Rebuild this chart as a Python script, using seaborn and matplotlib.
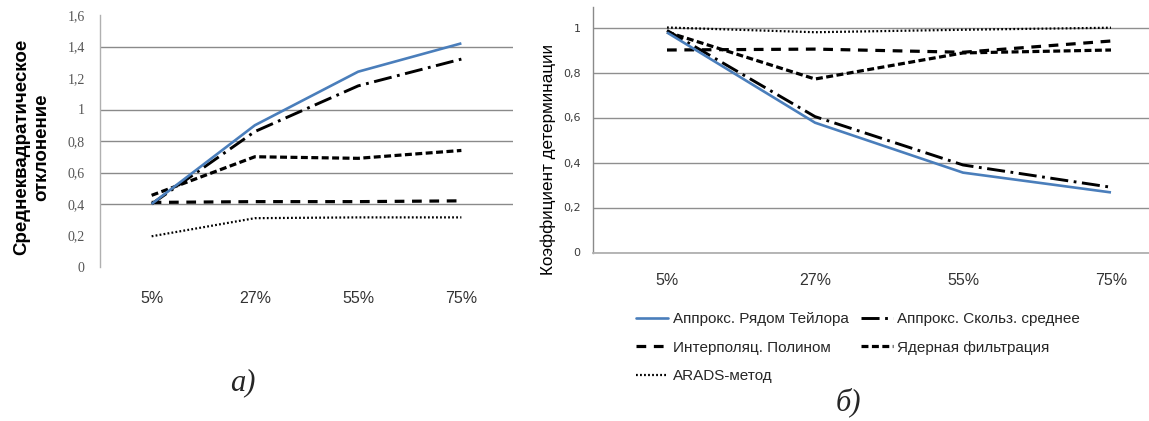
import matplotlib
matplotlib.use("Agg")
import matplotlib.pyplot as plt
from matplotlib.lines import Line2D
import seaborn as sns
import pandas as pd

# Noise levels (categories on the x axis)
levels = ["5%", "27%", "55%", "75%"]

series_names = [
    "Аппрокс. Рядом Тейлора",
    "Аппрокс. Скольз. среднее",
    "Интерполяц. Полином",
    "Ядерная фильтрация",
    "ARADS-метод",
]

# (a) root-mean-square deviation
rmse_taylor = [0.40, 0.90, 1.24, 1.42]
rmse_moving = [0.40, 0.86, 1.15, 1.32]
rmse_poly = [0.41, 0.415, 0.415, 0.42]
rmse_kernel = [0.455, 0.70, 0.69, 0.74]
rmse_arads = [0.195, 0.31, 0.315, 0.315]

# (б) coefficient of determination
r2_taylor = [0.978, 0.577, 0.355, 0.267]
r2_moving = [0.987, 0.604, 0.389, 0.29]
r2_poly = [0.90, 0.904, 0.89, 0.94]
r2_kernel = [0.98, 0.771, 0.887, 0.90]
r2_arads = [1.0, 0.979, 0.99, 0.999]

left_ticks = [0, 0.2, 0.4, 0.6, 0.8, 1.0, 1.2, 1.4, 1.6]
left_tick_labels = ["0", "0,2", "0,4", "0,6", "0,8", "1", "1,2", "1,4", "1,6"]
left_grid = [0.4, 0.6, 0.8, 1.0, 1.4]
right_ticks = [0, 0.2, 0.4, 0.6, 0.8, 1.0]
right_tick_labels = ["0", "0,2", "0,4", "0,6", "0,8", "1"]

sns.set_theme(style="white")
plt.rcParams["lines.scale_dashes"] = False

BLUE = "#4a7ebb"
styles = {
    series_names[0]: dict(color=BLUE, lw=1.9, ls="-"),
    series_names[1]: dict(color="black", lw=2.1, ls=(0, (13, 4, 2, 4))),
    series_names[2]: dict(color="black", lw=2.3, ls=(0, (7, 5.5))),
    series_names[3]: dict(color="black", lw=2.3, ls=(0, (5, 2.5))),
    series_names[4]: dict(color="black", lw=1.6, ls=(0, (1.3, 1.6))),
}


def long_table(values):
    rows = []
    for name, vals in zip(series_names, values):
        for i, v in enumerate(vals):
            rows.append({"pos": i, "level": levels[i], "series": name, "value": v})
    return pd.DataFrame(rows)


df_a = long_table([rmse_taylor, rmse_moving, rmse_poly, rmse_kernel, rmse_arads])
df_b = long_table([r2_taylor, r2_moving, r2_poly, r2_kernel, r2_arads])

W, H = 1149, 421
fig = plt.figure(figsize=(W / 100, H / 100), dpi=100)

ax_a = fig.add_axes([100 / W, 1 - 267 / H, 413 / W, 252 / H])
ax_b = fig.add_axes([593 / W, 1 - 252.5 / H, 592 / W, 245.25 / H])

draw_order = [series_names[i] for i in (4, 2, 3, 1, 0)]


def draw(ax, df):
    for name in draw_order:
        st = styles[name]
        sub = df[df["series"] == name]
        sns.lineplot(data=sub, x="pos", y="value", ax=ax, color=st["color"],
                     linewidth=st["lw"], linestyle=st["ls"], legend=False,
                     zorder=3, solid_capstyle="butt", dash_capstyle="butt")
    ax.set_xlim(-0.5, 3.5)
    ax.set_xticks(range(len(levels)))
    ax.set_xticklabels(levels)
    ax.set_xlabel("")
    for s in ("top", "right"):
        ax.spines[s].set_visible(False)
    ax.tick_params(axis="both", length=0)


# ---- (a) ----
draw(ax_a, df_a)
ax_a.set_ylim(0, 1.6)
ax_a.set_yticks(left_ticks)
ax_a.set_yticklabels(left_tick_labels, family="Liberation Serif", fontsize=10, color="#555555")
for g in left_grid:
    ax_a.axhline(g, color="#8a8a8a", lw=1.0, zorder=1)
ax_a.spines["bottom"].set_visible(False)
ax_a.spines["left"].set_color("#b0b0b0")
ax_a.spines["left"].set_linewidth(1.0)
ax_a.tick_params(axis="y", pad=11)
ax_a.tick_params(axis="x", pad=17)
for t in ax_a.get_xticklabels():
    t.set_family("Liberation Sans")
    t.set_fontsize(11.5)
    t.set_color("#333333")
ax_a.set_ylabel("Среднеквадратическое\nотклонение", fontsize=13.5, fontweight="bold",
                family="Liberation Sans", color="black", linespacing=1.25)
ax_a.yaxis.set_label_coords(-0.12, 0.476)

# ---- (б) ----
draw(ax_b, df_b)
ax_b.set_ylim(0, 1.09)
ax_b.set_yticks(right_ticks)
ax_b.set_yticklabels(right_tick_labels, family="DejaVu Sans", fontsize=8, color="#3a3a3a")
ax_b.yaxis.grid(True, color="#8f8f8f", lw=1.0, zorder=1)
ax_b.set_axisbelow(True)
ax_b.spines["bottom"].set_color("#b0b0b0")
ax_b.spines["bottom"].set_linewidth(1.3)
ax_b.spines["left"].set_color("#8a8a8a")
ax_b.spines["left"].set_linewidth(1.0)
ax_b.tick_params(axis="y", pad=9)
ax_b.tick_params(axis="x", pad=15)
for t in ax_b.get_xticklabels():
    t.set_family("Liberation Sans")
    t.set_fontsize(11.5)
    t.set_color("#333333")
ax_b.set_ylabel("Коэффициент детерминации", fontsize=12.3, family="Liberation Sans",
                color="black")
ax_b.yaxis.set_label_coords(-0.0625, 0.38)

# Legend below panel (б)
order = [0, 2, 4, 1, 3]
handles = [Line2D([], [], color=styles[series_names[i]]["color"],
                  lw=styles[series_names[i]]["lw"], ls=styles[series_names[i]]["ls"])
           for i in order]
labels = [series_names[i] for i in order]
fig.legend(handles, labels, loc="upper left", bbox_to_anchor=(636 / W, 1 - 312 / H),
           ncol=2, frameon=False, prop={"family": "Liberation Sans", "size": 11},
           handlelength=2.1, handletextpad=0.3, columnspacing=0.8,
           labelspacing=0.95, borderpad=0, borderaxespad=0)

# Panel captions
fig.text(243 / W, 1 - 383 / H, "а)", family="Liberation Serif", style="italic",
         fontsize=22, ha="center", va="center")
fig.text(848 / W, 1 - 402 / H, "б)", family="Liberation Serif", style="italic",
         fontsize=22, ha="center", va="center")

fig.savefig("out.png", dpi=100, facecolor="white")
